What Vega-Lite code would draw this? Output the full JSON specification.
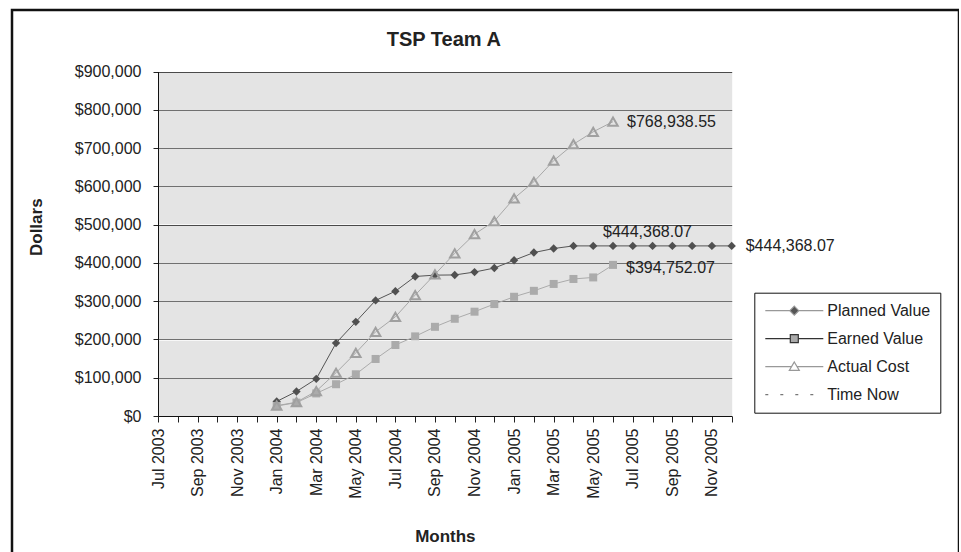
{
  "$schema": "https://vega.github.io/schema/vega-lite/v6.json",
  "width": 947,
  "height": 560,
  "autosize": "none",
  "padding": {"left": 12, "top": 10, "right": 0, "bottom": 0},
  "background": "white",
  "title": {"text": "TSP Team A", "fontSize": 20, "fontWeight": "bold", "color": "#222222", "font": "Liberation Sans", "frame": "group", "anchor": "middle", "dx": -41.7, "offset": -56, "baseline": "alphabetic"},
  "data": {"values": [
    {"month": "Jan 2004", "series": "Planned Value", "value": 38000},
    {"month": "Feb 2004", "series": "Planned Value", "value": 64000},
    {"month": "Mar 2004", "series": "Planned Value", "value": 97000},
    {"month": "Apr 2004", "series": "Planned Value", "value": 190500},
    {"month": "May 2004", "series": "Planned Value", "value": 246000},
    {"month": "Jun 2004", "series": "Planned Value", "value": 302000},
    {"month": "Jul 2004", "series": "Planned Value", "value": 326000},
    {"month": "Aug 2004", "series": "Planned Value", "value": 364500},
    {"month": "Sep 2004", "series": "Planned Value", "value": 368000},
    {"month": "Oct 2004", "series": "Planned Value", "value": 368500},
    {"month": "Nov 2004", "series": "Planned Value", "value": 376000},
    {"month": "Dec 2004", "series": "Planned Value", "value": 386500},
    {"month": "Jan 2005", "series": "Planned Value", "value": 407000},
    {"month": "Feb 2005", "series": "Planned Value", "value": 427000},
    {"month": "Mar 2005", "series": "Planned Value", "value": 437500},
    {"month": "Apr 2005", "series": "Planned Value", "value": 444368.07},
    {"month": "May 2005", "series": "Planned Value", "value": 444368.07},
    {"month": "Jun 2005", "series": "Planned Value", "value": 444368.07},
    {"month": "Jul 2005", "series": "Planned Value", "value": 444368.07},
    {"month": "Aug 2005", "series": "Planned Value", "value": 444368.07},
    {"month": "Sep 2005", "series": "Planned Value", "value": 444368.07},
    {"month": "Oct 2005", "series": "Planned Value", "value": 444368.07},
    {"month": "Nov 2005", "series": "Planned Value", "value": 444368.07},
    {"month": "Dec 2005", "series": "Planned Value", "value": 444368.07},
    {"month": "Jan 2004", "series": "Earned Value", "value": 26000},
    {"month": "Feb 2004", "series": "Earned Value", "value": 35000},
    {"month": "Mar 2004", "series": "Earned Value", "value": 59000},
    {"month": "Apr 2004", "series": "Earned Value", "value": 83000},
    {"month": "May 2004", "series": "Earned Value", "value": 109000},
    {"month": "Jun 2004", "series": "Earned Value", "value": 149000},
    {"month": "Jul 2004", "series": "Earned Value", "value": 185500},
    {"month": "Aug 2004", "series": "Earned Value", "value": 208000},
    {"month": "Sep 2004", "series": "Earned Value", "value": 233000},
    {"month": "Oct 2004", "series": "Earned Value", "value": 254000},
    {"month": "Nov 2004", "series": "Earned Value", "value": 272500},
    {"month": "Dec 2004", "series": "Earned Value", "value": 292500},
    {"month": "Jan 2005", "series": "Earned Value", "value": 311500},
    {"month": "Feb 2005", "series": "Earned Value", "value": 327000},
    {"month": "Mar 2005", "series": "Earned Value", "value": 345000},
    {"month": "Apr 2005", "series": "Earned Value", "value": 358000},
    {"month": "May 2005", "series": "Earned Value", "value": 362000},
    {"month": "Jun 2005", "series": "Earned Value", "value": 394752.07},
    {"month": "Jan 2004", "series": "Actual Cost", "value": 27000},
    {"month": "Feb 2004", "series": "Actual Cost", "value": 36000},
    {"month": "Mar 2004", "series": "Actual Cost", "value": 65000},
    {"month": "Apr 2004", "series": "Actual Cost", "value": 113000},
    {"month": "May 2004", "series": "Actual Cost", "value": 165000},
    {"month": "Jun 2004", "series": "Actual Cost", "value": 220000},
    {"month": "Jul 2004", "series": "Actual Cost", "value": 259000},
    {"month": "Aug 2004", "series": "Actual Cost", "value": 316000},
    {"month": "Sep 2004", "series": "Actual Cost", "value": 370000},
    {"month": "Oct 2004", "series": "Actual Cost", "value": 425000},
    {"month": "Nov 2004", "series": "Actual Cost", "value": 475000},
    {"month": "Dec 2004", "series": "Actual Cost", "value": 509000},
    {"month": "Jan 2005", "series": "Actual Cost", "value": 568500},
    {"month": "Feb 2005", "series": "Actual Cost", "value": 612000},
    {"month": "Mar 2005", "series": "Actual Cost", "value": 667000},
    {"month": "Apr 2005", "series": "Actual Cost", "value": 710000},
    {"month": "May 2005", "series": "Actual Cost", "value": 742500},
    {"month": "Jun 2005", "series": "Actual Cost", "value": 768938.55}
  ]},
  "encoding": {
    "x": {
      "field": "month", "type": "ordinal",
      "scale": {"type": "point", "padding": 0, "range": [146, 719.7],
        "domain": ["Jul 2003","Aug 2003","Sep 2003","Oct 2003","Nov 2003","Dec 2003","Jan 2004","Feb 2004","Mar 2004","Apr 2004","May 2004","Jun 2004","Jul 2004","Aug 2004","Sep 2004","Oct 2004","Nov 2004","Dec 2004","Jan 2005","Feb 2005","Mar 2005","Apr 2005","May 2005","Jun 2005","Jul 2005","Aug 2005","Sep 2005","Oct 2005","Nov 2005","Dec 2005"]},
      "axis": {"title": "Months", "labelAngle": -90,
        "labelExpr": "indexof(['Jan','Mar','May','Jul','Sep','Nov'], slice(datum.value, 0, 3)) >= 0 ? datum.value : ''",
        "tickSize": 6, "labelPadding": 6, "offset": -154, "minExtent": 85, "maxExtent": 85, "titlePadding": 27, "grid": false}
    },
    "y": {
      "field": "value", "type": "quantitative",
      "scale": {"domain": [0, 900000], "range": [406, 61.5], "nice": false, "zero": true},
      "axis": {"title": "Dollars",
        "values": [0,50000,100000,150000,200000,250000,300000,350000,400000,450000,500000,550000,600000,650000,700000,750000,800000,850000,900000],
        "format": "$,.0f", "labelExpr": "datum.value % 100000 === 0 ? datum.label : ''", "labelOverlap": false,
        "tickSize": 5, "labelPadding": 12, "offset": -146, "minExtent": 90, "maxExtent": 90,
        "tickOpacity": {"condition": {"test": "datum.value % 100000 !== 0", "value": 0}, "value": 1},
        "titlePadding": 23, "titleY": 216.7, "grid": true,
        "gridColor": {"condition": {"test": "datum.value % 100000 !== 0", "value": "#e4e4e4"}, "value": "#4a4a4a"},
        "gridWidth": {"condition": {"test": "datum.value % 100000 !== 0", "value": 37.3}, "value": 1}}
    }
  },
  "layer": [
    {
      "data": {"values": [{}]},
      "mark": {"type": "rule", "color": "#9a9a9a", "strokeWidth": 1},
      "encoding": {
        "x": {"datum": "Dec 2005", "type": "ordinal"},
        "y": {"datum": 0, "type": "quantitative"},
        "y2": {"datum": 900000}
      }
    },
    {
      "data": {"values": [{}]},
      "mark": {"type": "rule", "color": "#333333", "strokeWidth": 1.5},
      "encoding": {
        "x": {"datum": "Jun 2005", "type": "ordinal"},
        "y": {"datum": 0, "type": "quantitative"},
        "y2": {"datum": 900000}
      }
    },
    {
      "mark": {"type": "line", "strokeWidth": 1},
      "encoding": {
        "color": {"field": "series", "type": "nominal", "legend": null,
          "scale": {"domain": ["Planned Value", "Earned Value", "Actual Cost"], "range": ["#555555", "#ababab", "#a8a8a8"]}},
        "order": {"value": null}
      }
    },
    {
      "transform": [{"filter": "datum.series === 'Planned Value'"}],
      "mark": {"type": "point", "shape": "diamond", "filled": true, "color": "#505050", "opacity": 1, "size": 70}
    },
    {
      "transform": [{"filter": "datum.series === 'Earned Value'"}],
      "mark": {"type": "point", "shape": "square", "filled": true, "color": "#ababab", "opacity": 1, "size": 64}
    },
    {
      "transform": [{"filter": "datum.series === 'Actual Cost'"}],
      "mark": {"type": "point", "shape": "triangle-up", "filled": false, "color": "#a0a0a0", "opacity": 1, "size": 90, "strokeWidth": 2}
    },
    {
      "transform": [{"filter": "false"}],
      "mark": {"type": "point", "filled": true, "opacity": 1, "strokeWidth": 1.2},
      "encoding": {
        "shape": {"field": "series", "type": "nominal",
          "scale": {"domain": ["Planned Value", "Earned Value", "Actual Cost", "Time Now"],
            "range": ["M-5.8,0H-0.9M0.9,0H5.8M0,-0.9L0.9,0L0,0.9L-0.9,0Z", "M-5.8,0H-0.8M0.8,0H5.8M-0.8,-0.8H0.8V0.8H-0.8Z", "M-5.8,0H-0.6M0.6,0H5.8M0,-0.95L1,0.75H-1Z", "M-5.8,0H-5.2M-2.8,0H-2.2M0.2,0H0.8M3.2,0H3.8"]},
          "legend": {
            "title": null, "orient": "none", "legendX": 742.3, "legendY": 282.7,
            "padding": 10, "strokeColor": "#111111", "fillColor": "#ffffff",
            "symbolSize": 100, "symbolStrokeWidth": 1.2, "symbolOffset": 22, "labelOffset": 25, "rowPadding": 12,
            "labelFontSize": 16, "labelColor": "#222222", "labelFont": "Liberation Sans", "labelLimit": 300
          }
        },
        "fill": {"field": "series", "type": "nominal",
          "scale": {"domain": ["Planned Value", "Earned Value", "Actual Cost", "Time Now"], "range": ["#555555", "#aaaaaa", "#ffffff", "transparent"]}},
        "stroke": {"field": "series", "type": "nominal",
          "scale": {"domain": ["Planned Value", "Earned Value", "Actual Cost", "Time Now"], "range": ["#999999", "#333333", "#999999", "#777777"]}}
      }
    },
    {
      "transform": [{"filter": "datum.series === 'Actual Cost' && datum.month === 'Jun 2005'"}],
      "mark": {"type": "text", "align": "left", "baseline": "middle", "dx": 14},
      "encoding": {"text": {"field": "value", "type": "quantitative", "format": "$,.2f"}}
    },
    {
      "transform": [{"filter": "datum.series === 'Earned Value' && datum.month === 'Jun 2005'"}],
      "mark": {"type": "text", "align": "left", "baseline": "middle", "dx": 13, "dy": 3},
      "encoding": {"text": {"field": "value", "type": "quantitative", "format": "$,.2f"}}
    },
    {
      "transform": [{"filter": "datum.series === 'Planned Value' && datum.month === 'Jun 2005'"}],
      "mark": {"type": "text", "align": "left", "baseline": "middle", "dx": -10, "dy": -14},
      "encoding": {"text": {"field": "value", "type": "quantitative", "format": "$,.2f"}}
    },
    {
      "transform": [{"filter": "datum.series === 'Planned Value' && datum.month === 'Dec 2005'"}],
      "mark": {"type": "text", "align": "left", "baseline": "middle", "dx": 14},
      "encoding": {"text": {"field": "value", "type": "quantitative", "format": "$,.2f"}}
    },
    {
      "data": {"values": [{}]},
      "mark": {"type": "text", "align": "left", "baseline": "middle", "dx": 15},
      "encoding": {
        "x": {"datum": "Jul 2003", "type": "ordinal"},
        "y": {"datum": 770600, "type": "quantitative"},
        "text": {"value": "Schedule Performance Index: 0.89"}
      }
    },
    {
      "data": {"values": [{}]},
      "mark": {"type": "text", "align": "left", "baseline": "middle", "dx": 15},
      "encoding": {
        "x": {"datum": "Jul 2003", "type": "ordinal"},
        "y": {"datum": 724400, "type": "quantitative"},
        "text": {"value": "Cost Performance Index: 0.51"}
      }
    }
  ],
  "config": {
    "font": "Liberation Sans",
    "view": {"stroke": "#111111", "strokeWidth": 2.5, "fill": "#ffffff"},
    "axis": {"labelFont": "Liberation Sans", "titleFont": "Liberation Sans", "labelFontSize": 16, "labelColor": "#222222",
      "titleColor": "#222222", "titleFontSize": 17, "titleFontWeight": "bold", "domainColor": "#111111", "tickColor": "#222222",
      "domainWidth": 1, "tickWidth": 1},
    "text": {"font": "Liberation Sans", "fontSize": 16, "color": "#222222"}
  }
}
